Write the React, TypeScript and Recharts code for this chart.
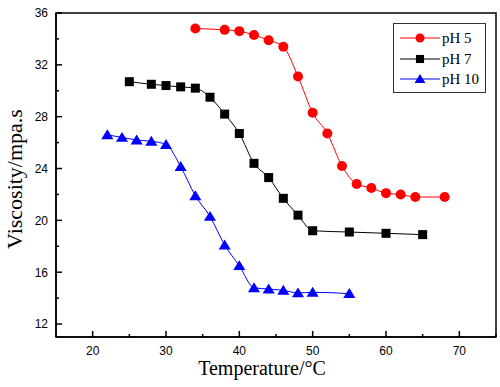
import {
  LineChart, Line, XAxis, YAxis, ReferenceArea, Legend,
} from 'recharts';

// temperature (°C) and viscosity (mpa.s) per pH
const tempPH5 = [34, 38, 40, 42, 44, 46, 48, 50, 52, 54, 56, 58, 60, 62, 64, 68];
const viscPH5 = [34.8, 34.7, 34.6, 34.3, 33.9, 33.4, 31.1, 28.3, 26.7, 24.2, 22.8, 22.5, 22.1, 22.0, 21.8, 21.8];

const tempPH7 = [25, 28, 30, 32, 34, 36, 38, 40, 42, 44, 46, 48, 50, 55, 60, 65];
const viscPH7 = [30.7, 30.5, 30.4, 30.3, 30.2, 29.5, 28.2, 26.7, 24.4, 23.3, 21.7, 20.4, 19.2, 19.1, 19.0, 18.9];

const tempPH10 = [22, 24, 26, 28, 30, 32, 34, 36, 38, 40, 42, 44, 46, 48, 50, 55];
const viscPH10 = [26.6, 26.4, 26.2, 26.1, 25.85, 24.15, 21.9, 20.3, 18.1, 16.5, 14.8, 14.7, 14.6, 14.4, 14.45, 14.35];

const xTicks = [15, 20, 25, 30, 35, 40, 45, 50, 55, 60, 65, 70, 75];
const yTicks = [12, 14, 16, 18, 20, 22, 24, 26, 28, 30, 32, 34, 36];

const toPoints = (xs: number[], ys: number[]) => xs.map((t, i) => ({ t, v: ys[i] }));

const series = [
  { name: 'pH 5', color: '#ff0000', shape: 'circle', data: toPoints(tempPH5, viscPH5) },
  { name: 'pH 7', color: '#000000', shape: 'square', data: toPoints(tempPH7, viscPH7) },
  { name: 'pH 10', color: '#0000ff', shape: 'triangle', data: toPoints(tempPH10, viscPH10) },
];

const SERIF = '"Liberation Serif", "Times New Roman", serif';
const SANS = '"Liberation Sans", Arial, sans-serif';
const X_MARGIN = 9;
const Y_MARGIN = 8;

function Marker({ cx, cy, shape, color, size = 5 }: any) {
  if (cx == null || cy == null) return null;
  if (shape === 'circle') return <circle cx={cx} cy={cy} r={size} fill={color} />;
  if (shape === 'square') {
    const s = size * 0.9;
    return <rect x={cx - s} y={cy - s} width={s * 2} height={s * 2} fill={color} />;
  }
  const h = size * 1.1;
  return (
    <polygon
      points={`${cx},${cy - h} ${cx + h * 1.1},${cy + h * 0.8} ${cx - h * 1.1},${cy + h * 0.8}`}
      fill={color}
    />
  );
}

function XTick({ x, y, payload }: any) {
  const major = payload.value % 10 === 0;
  const axisY = y - X_MARGIN;
  return (
    <g>
      <line x1={x} x2={x} y1={axisY} y2={axisY - (major ? 6 : 3)} stroke="#000" strokeWidth={1.5} />
      {major && payload.value > 15 && payload.value < 75 && (
        <text x={x} y={y} dy="0.71em" textAnchor="middle" fontSize={12} fontFamily={SANS} fill="#000">
          {payload.value}
        </text>
      )}
    </g>
  );
}

function YTick({ x, y, payload }: any) {
  const major = (payload.value - 12) % 4 === 0;
  const axisX = x + Y_MARGIN;
  return (
    <g>
      <line x1={axisX} x2={axisX + (major ? 6 : 3)} y1={y} y2={y} stroke="#000" strokeWidth={1.5} />
      {major && (
        <text x={x} y={y} dy="0.36em" textAnchor="end" fontSize={12} fontFamily={SANS} fill="#000">
          {payload.value}
        </text>
      )}
    </g>
  );
}

function LegendBox() {
  return (
    <div
      style={{
        border: '1px solid #333',
        background: '#fff',
        padding: '4px 0 2px 6px',
        fontFamily: SERIF,
        fontSize: 15,
        lineHeight: '20.5px',
      }}
    >
      {series.map((s) => (
        <div key={s.name} style={{ display: 'flex', alignItems: 'center' }}>
          <svg width={40} height={14} style={{ marginRight: 2 }}>
            <line x1={0} x2={40} y1={7} y2={7} stroke={s.color} strokeWidth={1} />
            <Marker cx={20} cy={7} shape={s.shape} color={s.color} size={4.5} />
          </svg>
          <span>{s.name}</span>
        </div>
      ))}
    </div>
  );
}

export default function App() {
  return (
    <div style={{ position: 'absolute', left: 0, top: 0, background: '#fff' }}>
      <LineChart width={500} height={387} margin={{ top: 13, right: 4, bottom: 0, left: 0 }}>
        <XAxis
          dataKey="t"
          type="number"
          domain={[15, 75]}
          ticks={xTicks}
          interval={0}
          height={50}
          stroke="#000"
          strokeWidth={1.5}
          tickLine={false}
          tickSize={0}
          tickMargin={X_MARGIN}
          tick={<XTick />}
          label={{
            content: ({ viewBox }: any) => (
              <text
                x={viewBox.x + viewBox.width / 2 - 14}
                y={viewBox.y + 38}
                textAnchor="middle"
                fontSize={20}
                fontFamily={SERIF}
                fill="#000"
              >
                Temperature/°C
              </text>
            ),
          }}
        />
        <YAxis
          type="number"
          domain={[11, 36]}
          ticks={yTicks}
          interval={0}
          width={56}
          stroke="#000"
          strokeWidth={1.5}
          tickLine={false}
          tickSize={0}
          tickMargin={Y_MARGIN}
          tick={<YTick />}
          label={{
            content: ({ viewBox }: any) => {
              const cx = viewBox.x + 14;
              const cy = viewBox.y + viewBox.height / 2 + 4;
              return (
                <text
                  x={cx}
                  y={cy}
                  transform={`rotate(-90 ${cx} ${cy})`}
                  textAnchor="middle"
                  dominantBaseline="central"
                  fontSize={22}
                  fontFamily={SERIF}
                  fill="#000"
                >
                  Viscosity/mpa.s
                </text>
              );
            },
          }}
        />
        <ReferenceArea x1={15} x2={75} y1={11} y2={36} fill="none" stroke="#000" strokeWidth={1.5} />
        <Legend
          layout="horizontal"
          verticalAlign="middle"
          align="center"
          content={<LegendBox />}
          wrapperStyle={{ position: 'absolute', left: 393, top: 23, width: 93 }}
        />
        {series.map((s) => (
          <Line
            key={s.name}
            data={s.data}
            dataKey="v"
            name={s.name}
            type="monotone"
            stroke={s.color}
            strokeWidth={1}
            dot={(p: any) => <Marker key={p.index} cx={p.cx} cy={p.cy} shape={s.shape} color={s.color} />}
            activeDot={false}
            isAnimationActive={false}
          />
        ))}
      </LineChart>
    </div>
  );
}
